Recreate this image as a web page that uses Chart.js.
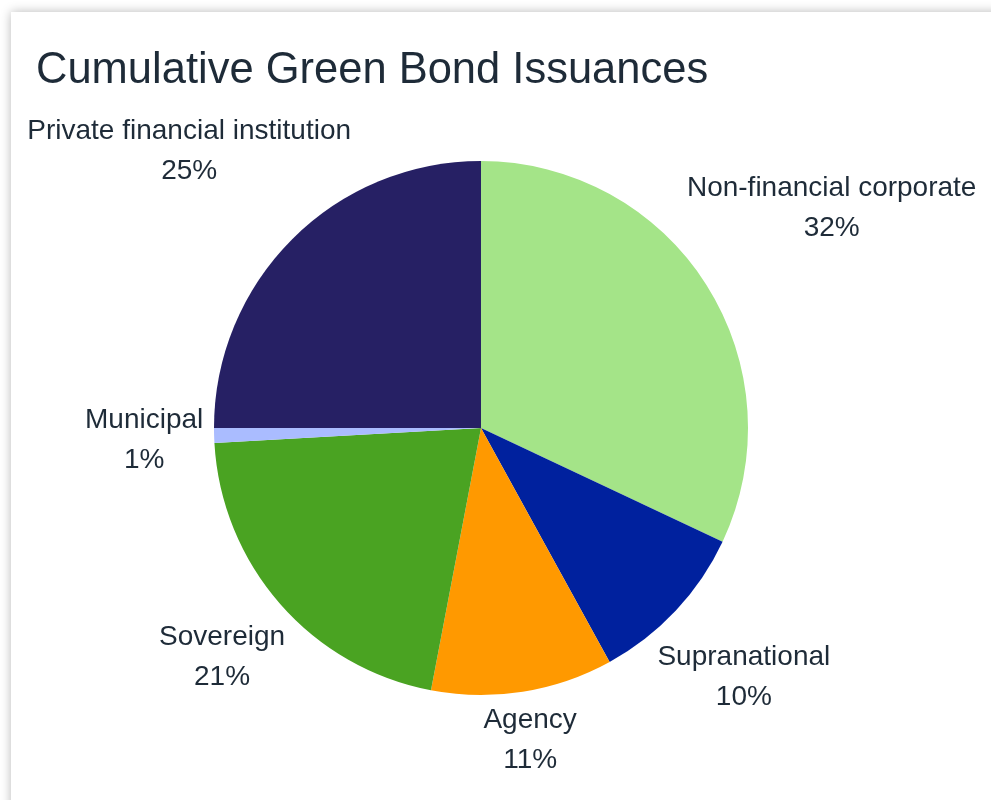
<!DOCTYPE html>
<html>
<head>
<meta charset="utf-8">
<script src="https://cdn.jsdelivr.net/npm/chart.js@4"></script>
<style>
    body { margin: 0; background: #fff; overflow: hidden; }
    .card {
        position: absolute; left: 11px; top: 12px;
        width: 1000px; height: 800px;
        background: #fff;
        box-shadow: 0 0 10px rgba(0, 0, 0, 0.28);
    }
    canvas { display: block; }
</style>
</head>
<body>
<div class="card">
    <canvas id="chartIssuances" width="980" height="788"></canvas>
</div>
<script>
// Dados (participação em %)
const categories = ['Non-financial corporate', 'Supranational', 'Agency', 'Sovereign', 'Municipal', 'Private financial institution'];
const shares = [32, 10, 11, 21.1, 0.9, 25];
const sliceColors = ['#a4e488', '#00219e', '#ff9900', '#4aa322', '#aabcff', '#262064'];

const chartTitle = 'Cumulative Green Bond Issuances';
const textColor = '#1e2b38';
const fontFamily = '"Liberation Sans", Arial, Helvetica, sans-serif';

// desenha o título e os rótulos fora das fatias
const outsideLabels = {
    id: 'outsideLabels',
    afterDraw(chart) {
        const ctx = chart.ctx;
        ctx.save();
        ctx.fillStyle = textColor;

        ctx.font = '43.5px ' + fontFamily;
        ctx.textAlign = 'left';
        ctx.textBaseline = 'alphabetic';
        ctx.fillText(chartTitle, 25, 71);

        const total = shares.reduce((a, b) => a + b, 0);
        const fontSize = 28;
        const lineHeight = 40;
        const capHeight = fontSize * 0.72;
        const minTop = 107; // rótulos não sobem até o título
        ctx.font = fontSize + 'px ' + fontFamily;
        ctx.textAlign = 'center';

        chart.getDatasetMeta(0).data.forEach((arc, i) => {
            const p = arc.getProps(['x', 'y', 'startAngle', 'endAngle', 'outerRadius'], true);
            const mid = (p.startAngle + p.endAngle) / 2;
            const dx = Math.cos(mid);
            const dy = Math.sin(mid);
            const lines = [categories[i], Math.round(shares[i] / total * 100) + '%'];
            const w = Math.max(...lines.map(l => ctx.measureText(l).width));
            const h = lineHeight + capHeight;
            const dist = p.outerRadius + Math.abs(dx) * w / 2 + Math.abs(dy) * h / 2 + 10;
            const cx = p.x + dx * dist;
            const cy = p.y + dy * dist;
            const top = Math.max(cy - h / 2, minTop);
            const firstBase = top + capHeight;
            lines.forEach((line, j) => {
                ctx.fillText(line, cx, firstBase + j * lineHeight);
            });
        });
        ctx.restore();
    }
};

new Chart(document.getElementById('chartIssuances'), {
    type: 'pie',
    data: {
        labels: categories,
        datasets: [{
            data: shares,
            backgroundColor: sliceColors,
            borderWidth: 0,
            hoverOffset: 0
        }]
    },
    options: {
        responsive: false,
        animation: false,
        layout: { padding: { left: 203, top: 149, right: 243, bottom: 105 } },
        plugins: {
            legend: { display: false },
            title: { display: false },
            tooltip: { enabled: false }
        }
    },
    plugins: [outsideLabels]
});
</script>
</body>
</html>
